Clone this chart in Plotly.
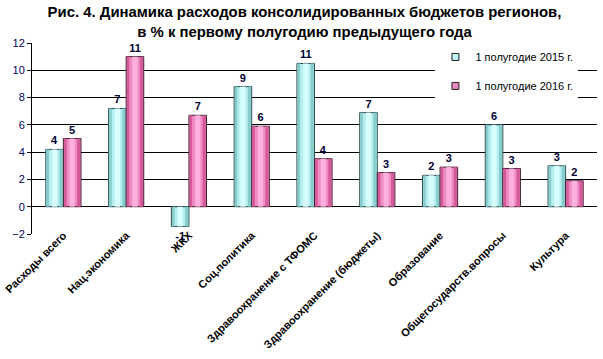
import plotly.graph_objects as go

categories = ["Расходы всего", "Нац.экономика", "ЖКХ", "Соц.политика",
              "Здравоохранение с ТФОМС", "Здравоохранение (бюджеты)",
              "Образование", "Общегосударств.вопросы", "Культура"]
values_2015 = [4.2, 7.2, -1.45, 8.8, 10.5, 6.9, 2.3, 6.0, 3.0]
values_2016 = [5.0, 11.0, 6.7, 5.9, 3.52, 2.5, 2.9, 2.8, 1.9]
series_names = ["1 полугодие 2015 г.", "1 полугодие 2016 г."]
y_ticks = [-2, 0, 2, 4, 6, 8, 10, 12]

W = 0.28
FONT = "Arial, Liberation Sans, sans-serif"

fig = go.Figure()

styles = [
    dict(base="#86cccc", mid="#b4eeee", light="#d8ffff", edge="#2f4f4f", off=-W, legend="#c0f4f4"),
    dict(base="#d45a9a", mid="#f08cc4", light="#ffb0dc", edge="#3f1f2f", off=0.0, legend="#e888c0"),
]

for vals, name, st in zip([values_2015, values_2016], series_names, styles):
    fig.add_trace(go.Bar(
        x=categories, y=vals, name=name, showlegend=False,
        width=W, offset=st["off"],
        marker=dict(color=st["mid"], line=dict(color=st["edge"], width=1)),
        text=vals, texttemplate="%{y:.0f}", textposition="outside",
        textfont=dict(family=FONT, size=11, color="#000033", weight="bold"),
        cliponaxis=False,
    ))
    # shading layers to mimic the cylinder-like gradient
    fig.add_trace(go.Bar(
        x=categories, y=vals, showlegend=False, hoverinfo="skip",
        width=W * 0.18, offset=st["off"] + W * 0.78,
        marker=dict(color=st["base"], line=dict(width=0)),
    ))
    fig.add_trace(go.Bar(
        x=categories, y=vals, showlegend=False, hoverinfo="skip",
        width=W * 0.14, offset=st["off"] + W * 0.04,
        marker=dict(color=st["base"], line=dict(width=0)),
    ))
    fig.add_trace(go.Bar(
        x=categories, y=vals, showlegend=False, hoverinfo="skip",
        width=W * 0.3, offset=st["off"] + W * 0.35,
        marker=dict(color=st["light"], line=dict(width=0)),
    ))

# legend entries with small square keys
for name, st in zip(series_names, styles):
    fig.add_trace(go.Scatter(
        x=[None], y=[None], mode="markers", name=name, legendgroup=name,
        marker=dict(symbol="square", size=7, color=st["legend"],
                    line=dict(color="#202020", width=1)),
    ))

fig.update_layout(
    width=603, height=359,
    barmode="overlay",
    paper_bgcolor="white", plot_bgcolor="white",
    margin=dict(l=32, r=6, t=43, b=125, autoexpand=False),
    title=dict(
        text="<b>Рис. 4. Динамика расходов консолидированных бюджетов регионов,<br>в % к первому полугодию предыдущего года</b>",
        x=0.505, xanchor="center", y=0.952, yanchor="top",
        font=dict(family=FONT, size=14.9, color="black"),
    ),
    font=dict(family=FONT, size=11, color="black"),
    legend=dict(
        x=0.714, xanchor="left", y=1.003, yanchor="top",
        bgcolor="white", tracegroupgap=10,
        font=dict(family=FONT, size=11, color="black"),
        itemwidth=30,
    ),
    showlegend=True,
)

fig.update_xaxes(
    type="category", tickangle=-45,
    tickfont=dict(family=FONT, size=11, color="black", weight="bold"),
    showgrid=False, showline=False, ticks="",
    ticklabelstandoff=-8,
)
fig.update_yaxes(
    range=[-2, 12], tickvals=y_ticks,
    showgrid=True, gridcolor="black", gridwidth=1,
    zeroline=True, zerolinecolor="black", zerolinewidth=1,
    showline=True, linecolor="black", linewidth=1,
    ticks="outside", ticklen=4, tickcolor="black",
    tickfont=dict(family=FONT, size=11, color="#000060"),
)

fig.write_html("out.html",
               config={"displayModeBar": False},
               post_script="document.body.style.margin='0';document.body.style.padding='0';")
